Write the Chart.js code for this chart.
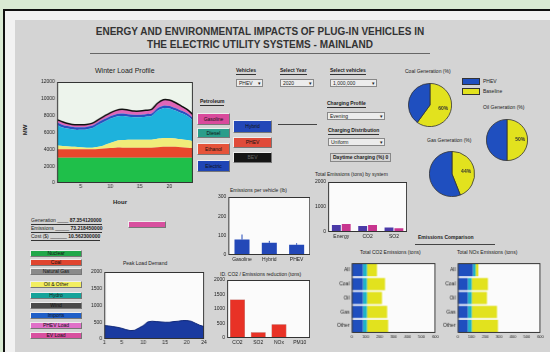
<!DOCTYPE html>
<html>
<head>
<meta charset="utf-8">
<script src="https://cdn.jsdelivr.net/npm/chart.js@4.4.1/dist/chart.umd.min.js"></script>
<style>
  body { margin: 0; width: 550px; height: 352px; overflow: hidden; background: #d9ead3;
         font-family: "Liberation Sans", Arial, sans-serif; position: relative; }
  #frame { position: absolute; left: 3px; top: 9px; width: 560px; height: 360px;
           border-left: 2px solid #111; border-top: 2px solid #111; background: #f2f2f2; }
  #panel { position: absolute; left: 15px; top: 20px; width: 535px; height: 332px; background: #d4d4d4; }
  .t { position: absolute; font-size: 6px; line-height: 1; color: #222; white-space: nowrap; }
  .b { font-weight: bold; }
  .u { border-bottom: 1px solid #333; padding-bottom: 1px; }
  .rule { position: absolute; height: 1px; background: #444; }
  .btn { position: absolute; font-size: 5px; text-align: center; color: #111; box-sizing: border-box;
         border: 1px solid #eee; border-right-color: #777; border-bottom-color: #777; }
  .pop { position: absolute; font-size: 5px; line-height: 6px; background: #ececec; color: #222;
         border: 1px solid #888; padding-left: 2px; box-sizing: border-box; }
  .pop:after { content: "\25BE"; position: absolute; right: 1px; top: 0; }
  .sw { position: absolute; border: 1px solid #333; box-sizing: border-box; }
  canvas { position: absolute; }
</style>
</head>
<body>
<div id="frame"></div>
<div id="panel"></div>

<!-- header -->
<div class="t b" style="left:60px;width:400px;text-align:center;top:27px;font-size:10px;color:#333">ENERGY AND ENVIRONMENTAL IMPACTS OF PLUG-IN VEHICLES IN</div>
<div class="t b" style="left:60px;width:400px;text-align:center;top:40px;font-size:10px;color:#333">THE ELECTRIC UTILITY SYSTEMS - MAINLAND</div>
<div class="rule" style="left:90px;top:53px;width:340px;background:#666"></div>

<!-- load profile labels -->
<div class="t" style="left:95px;top:67px;font-size:7px">Winter Load Profile</div>
<div class="t b" style="left:20px;top:127px;font-size:6px;transform:rotate(-90deg)">MW</div>
<div class="t b" style="left:113px;top:199px">Hour</div>

<!-- fuel buttons -->
<div class="t b u" style="left:200px;top:99px;font-size:5px">Petroleum</div>
<div class="btn" style="left:197px;top:113px;width:33px;height:12px;line-height:10px;background:#d94a9c">Gasoline</div>
<div class="btn" style="left:197px;top:128px;width:33px;height:10px;line-height:8px;background:#2a9d8a">Diesel</div>
<div class="btn" style="left:197px;top:143px;width:33px;height:12px;line-height:10px;background:#e5533a">Ethanol</div>
<div class="btn" style="left:197px;top:160px;width:33px;height:12px;line-height:10px;background:#1f45b5">Electric</div>
<div class="btn" style="left:233px;top:120px;width:39px;height:13px;line-height:11px;background:#2348b8">Hybrid</div>
<div class="btn" style="left:233px;top:137px;width:39px;height:11px;line-height:9px;background:#e04b3a">PHEV</div>
<div class="btn" style="left:233px;top:152px;width:39px;height:11px;line-height:9px;background:#151515;color:#666">BEV</div>
<div class="rule" style="left:278px;top:124px;width:39px"></div>

<!-- selectors -->
<div class="t b u" style="left:236px;top:68px;font-size:5px">Vehicles</div>
<div class="pop" style="left:236px;top:79px;width:27px;height:8px">PHEV</div>
<div class="t b u" style="left:280px;top:68px;font-size:5px">Select Year</div>
<div class="pop" style="left:280px;top:79px;width:34px;height:8px">2020</div>
<div class="t b u" style="left:330px;top:68px;font-size:5px">Select vehicles</div>
<div class="pop" style="left:330px;top:79px;width:47px;height:8px">1,000,000</div>

<div class="t b u" style="left:327px;top:101px;font-size:5px">Charging Profile</div>
<div class="pop" style="left:327px;top:112px;width:58px;height:8px">Evening</div>
<div class="t b u" style="left:328px;top:128px;font-size:5px">Charging Distribution</div>
<div class="pop" style="left:328px;top:138px;width:57px;height:8px">Uniform</div>
<div class="t b" style="left:330px;top:153px;font-size:5px;border:1px solid #888;padding:1px 2px">Daytime charging (%) 0</div>

<!-- pie titles and legend -->
<div class="t" style="left:405px;top:69px;font-size:5px">Coal Generation (%)</div>
<div class="t" style="left:483px;top:105px;font-size:5px">Oil Generation (%)</div>
<div class="t" style="left:427px;top:138px;font-size:5px">Gas Generation (%)</div>
<div class="sw" style="left:462px;top:78px;width:18px;height:7px;background:#1f4fbf"></div>
<div class="sw" style="left:462px;top:88px;width:18px;height:7px;background:#e2e21e"></div>
<div class="t" style="left:483px;top:79px;font-size:5px">PHEV</div>
<div class="t" style="left:483px;top:89px;font-size:5px">Baseline</div>

<!-- bar chart titles -->
<div class="t" style="left:315px;top:172px;font-size:5px">Total Emissions (tons) by system</div>
<div class="t" style="left:230px;top:188px;font-size:5px">Emissions per vehicle (lb)</div>
<div class="sw" style="left:259px;top:201px;width:21px;height:6px;background:#2348b8"></div>
<div class="sw" style="left:259px;top:209px;width:21px;height:6px;background:#d8d838"></div>
<div class="t" style="left:281px;top:202px;font-size:4px">Gasoline</div>
<div class="t" style="left:281px;top:210px;font-size:4px">PHEV</div>
<div class="t" style="left:220px;top:272px;font-size:5px">ID. CO2 / Emissions reduction (tons)</div>

<!-- summary rows -->
<div class="t u" style="left:31px;top:218px;font-size:5px">Generation ____ <b>87.354120000</b></div>
<div class="t u" style="left:31px;top:226px;font-size:5px">Emissions _____ <b>73.218450000</b></div>
<div class="t u" style="left:31px;top:234px;font-size:5px">Cost ($) ______ <b>10.562300000</b></div>
<div class="btn" style="left:128px;top:221px;width:38px;height:7px;background:#d8509f"></div>

<!-- generation colour list -->
<div class="btn" style="left:30px;top:250px;width:52px;height:7px;line-height:5px;background:#21a84a">Nuclear</div>
<div class="btn" style="left:30px;top:259px;width:52px;height:7px;line-height:5px;background:#e0452f">Coal</div>
<div class="btn" style="left:30px;top:268px;width:52px;height:7px;line-height:5px;background:#8a8a8a">Natural Gas</div>
<div class="btn" style="left:30px;top:281px;width:52px;height:7px;line-height:5px;background:#f2ee60">Oil &amp; Other</div>
<div class="btn" style="left:30px;top:292px;width:52px;height:7px;line-height:5px;background:#15a39a">Hydro</div>
<div class="btn" style="left:30px;top:302px;width:52px;height:7px;line-height:5px;background:#4a4a4a">Wind</div>
<div class="btn" style="left:30px;top:312px;width:52px;height:7px;line-height:5px;background:#1f5fc8">Imports</div>
<div class="btn" style="left:30px;top:322px;width:52px;height:7px;line-height:5px;background:#e070c8">PHEV Load</div>
<div class="btn" style="left:30px;top:332px;width:52px;height:7px;line-height:5px;background:#d8509f">EV Load</div>

<!-- peak chart labels -->
<div class="t" style="left:123px;top:261px;font-size:5px">Peak Load Demand</div>
<div class="sw" style="left:143px;top:276px;width:20px;height:5px;background:#1a3aa0"></div>
<div class="t" style="left:165px;top:276px;font-size:4px">Vehicle load</div>

<!-- emissions comparison -->
<div class="t b" style="left:418px;top:235px;font-size:5px">Emissions Comparison</div>
<div class="rule" style="left:415px;top:244px;width:80px"></div>
<div class="t" style="left:360px;top:250px;font-size:5px">Total CO2 Emissions (tons)</div>
<div class="t" style="left:457px;top:250px;font-size:5px">Total NOx Emissions (tons)</div>
<div class="sw" style="left:396px;top:265px;width:16px;height:5px;background:#1f4fbf"></div>
<div class="sw" style="left:396px;top:270px;width:16px;height:5px;background:#1fb4c8"></div>
<div class="sw" style="left:396px;top:275px;width:16px;height:5px;background:#e2e21e"></div>
<div class="t" style="left:414px;top:265px;font-size:4px">Base</div>
<div class="t" style="left:414px;top:270px;font-size:4px">Night</div>
<div class="t" style="left:414px;top:275px;font-size:4px">Day</div>
<div class="sw" style="left:503px;top:265px;width:18px;height:5px;background:#1f4fbf"></div>
<div class="sw" style="left:503px;top:270px;width:18px;height:5px;background:#1fb4c8"></div>
<div class="sw" style="left:503px;top:275px;width:18px;height:5px;background:#e2e21e"></div>
<div class="t" style="left:523px;top:265px;font-size:4px">Base</div>
<div class="t" style="left:523px;top:270px;font-size:4px">Night</div>
<div class="t" style="left:523px;top:275px;font-size:4px">Day</div>

<script>
// hourly winter load profile, MW per generation layer
const hours = [1, 2, 3, 4, 5, 6, 7, 8, 9, 10, 11, 12, 13, 14, 15, 16, 17, 18, 19, 20, 21, 22, 23, 24];
const nuclearMW = [3000, 3000, 3000, 3000, 3000, 3000, 3000, 3000, 3000, 3000, 3000, 3000, 3000, 3000, 3000, 3000, 3000, 3000, 3000, 3000, 3000, 3000, 3000, 3000];
const coalMW = [1000, 1000, 1000, 1000, 1000, 1000, 1000, 1050, 1100, 1150, 1200, 1200, 1200, 1200, 1200, 1200, 1200, 1250, 1300, 1300, 1300, 1250, 1200, 1150];
const oilMW = [450, 400, 350, 300, 250, 200, 200, 250, 400, 600, 800, 900, 950, 950, 950, 950, 950, 1000, 1050, 1050, 1000, 950, 900, 800];
const gasMW = [2430, 2190, 2090, 2020, 2070, 2160, 2320, 2630, 2790, 2890, 2880, 2850, 2720, 2650, 2650, 2730, 2800, 3330, 3540, 3500, 3310, 3110, 2900, 2490];
const importMW = [300, 300, 300, 300, 300, 300, 300, 300, 300, 300, 300, 300, 300, 300, 300, 300, 300, 300, 300, 300, 300, 300, 300, 300];
const vehicleMW = [350, 350, 300, 300, 300, 300, 300, 300, 350, 400, 450, 500, 500, 450, 450, 450, 500, 600, 700, 700, 650, 550, 450, 400];

// generation shares for the three pies (yellow slice first, then blue)
const pieOther = [60, 50, 44];
const pieCoal = [40, 50, 56];

// per-vehicle emissions
const vehicleTypes = ['Gasoline', 'Hybrid', 'PHEV'];
const perVehicle = [80, 63, 53];
const perVehicleErr = [26, 10, 8];

// system emissions, two scenarios
const systemCats = ['Energy', 'CO2', 'SO2'];
const systemBase = [280, 240, 180];
const systemPhev = [320, 280, 150];

// emission reductions
const pollutants = ['CO2', 'SO2', 'NOx', 'PM10'];
const reduction = [1330, 200, 470, 0];

// peak vehicle load by hour
const peakLoad = [400, 390, 370, 350, 320, 280, 250, 260, 330, 400, 510, 530, 520, 510, 500, 500, 520, 530, 550, 550, 530, 470, 410, 370];

// emissions comparison, stacked by charging period
const compareRows = ['All', 'Coal', 'Oil', 'Gas', 'Other'];
const co2Base = [80, 80, 80, 80, 80];
const co2Night = [29, 29, 29, 29, 29];
const co2Day = [72, 130, 108, 145, 152];
const noxBase = [110, 73, 73, 73, 73];
const noxNight = [20, 29, 29, 29, 29];
const noxDay = [20, 117, 110, 183, 190];

Chart.defaults.font.family = '"Liberation Sans", Arial, sans-serif';
Chart.defaults.font.size = 5;
Chart.defaults.color = '#222';
Chart.defaults.animation = false;
Chart.defaults.responsive = false;
Chart.defaults.maintainAspectRatio = false;
Chart.defaults.plugins.legend.display = false;
Chart.defaults.plugins.tooltip.enabled = false;

// white plot background and a thin frame around the axes box
const plotBox = {
  id: 'plotBox',
  beforeDraw(chart, args, opts) {
    const a = chart.chartArea;
    const c = chart.ctx;
    c.save();
    c.fillStyle = opts.bg || '#fbfbfb';
    c.fillRect(a.left, a.top, a.right - a.left, a.bottom - a.top);
    c.restore();
  },
  afterDraw(chart) {
    const a = chart.chartArea;
    const c = chart.ctx;
    c.save();
    c.strokeStyle = '#333';
    c.lineWidth = 1;
    c.strokeRect(a.left + 0.5, a.top + 0.5, a.right - a.left - 1, a.bottom - a.top - 1);
    c.restore();
  }
};

// percentage printed on the yellow slice
const pieLabel = {
  id: 'pieLabel',
  afterDraw(chart) {
    const arc = chart.getDatasetMeta(0).data[0];
    const p = arc.tooltipPosition();
    const c = chart.ctx;
    c.save();
    c.font = 'bold 5px "Liberation Sans", Arial';
    c.fillStyle = '#333';
    c.textAlign = 'center';
    c.textBaseline = 'middle';
    c.fillText(chart.data.datasets[0].data[0] + '%', p.x + 3, p.y);
    c.restore();
  }
};

// whiskers above the per-vehicle bars
const errBars = {
  id: 'errBars',
  afterDatasetsDraw(chart, args, opts) {
    const y = chart.scales.y;
    const c = chart.ctx;
    const vals = chart.data.datasets[0].data;
    c.save();
    c.strokeStyle = '#2348b8';
    c.lineWidth = 1;
    chart.getDatasetMeta(0).data.forEach((bar, i) => {
      c.beginPath();
      c.moveTo(bar.x, y.getPixelForValue(vals[i]));
      c.lineTo(bar.x, y.getPixelForValue(vals[i] + opts.err[i]));
      c.stroke();
    });
    c.restore();
  }
};

function tk(extra) {
  return Object.assign({ padding: 2, font: { size: 5 }, color: '#222' }, extra);
}

function ax(extra) {
  return Object.assign({
    grid: { display: false, drawTicks: false },
    border: { display: false },
    ticks: tk({})
  }, extra);
}

// create a chart and size/position its canvas so the plot area lands on (L,T,W,H)
function makeChart(L, T, W, H, config) {
  const cv = document.createElement('canvas');
  cv.width = W + 30;
  cv.height = H + 15;
  document.body.appendChild(cv);
  const chart = new Chart(cv, config);
  let a = chart.chartArea;
  chart.resize(chart.width + W - (a.right - a.left), chart.height + H - (a.bottom - a.top));
  a = chart.chartArea;
  cv.style.left = (L - a.left) + 'px';
  cv.style.top = (T - a.top) + 'px';
  return chart;
}

function layer(label, data, color, fill) {
  return { label, data, backgroundColor: color, borderWidth: 0, pointRadius: 0, fill, tension: 0.3 };
}

// winter load profile
const topLayer = layer('Vehicle load', vehicleMW, '#e066b8', '-1');
topLayer.borderWidth = 1.5;
topLayer.borderColor = '#111';
makeChart(57, 82, 135, 101, {
  type: 'line',
  data: {
    labels: hours,
    datasets: [
      layer('Nuclear', nuclearMW, '#1fbf4a', 'origin'),
      layer('Coal', coalMW, '#e8472c', '-1'),
      layer('Oil', oilMW, '#f0ec7a', '-1'),
      layer('Gas', gasMW, '#1eb2dc', '-1'),
      layer('Imports', importMW, '#2a4fc0', '-1'),
      topLayer
    ]
  },
  options: {
    layout: { padding: 0 },
    scales: {
      x: ax({ type: 'linear', min: 1, max: 24,
        ticks: tk({ stepSize: 5, padding: 1, callback: v => (v === 1 || v === 24) ? '' : v }) }),
      y: ax({ stacked: true, min: 0, max: 12000, ticks: tk({ stepSize: 2000, callback: v => v }) })
    },
    plugins: { plotBox: { bg: '#edf4ec' } }
  },
  plugins: [plotBox]
});

// generation share pies
const pieSpots = [[430, 105, 22], [507, 140, 21], [452, 174, 23]];
pieSpots.forEach((p, i) => {
  makeChart(p[0] - p[2], p[1] - p[2], p[2] * 2, p[2] * 2, {
    type: 'pie',
    data: {
      labels: ['Other', 'Coal'],
      datasets: [{ data: [pieOther[i], pieCoal[i]], backgroundColor: ['#e2e21e', '#1f4fbf'],
        borderColor: '#333', borderWidth: 0.8 }]
    },
    options: { layout: { padding: 0 } },
    plugins: [pieLabel]
  });
});

// per-vehicle emissions
makeChart(228, 197, 82, 58, {
  type: 'bar',
  data: {
    labels: vehicleTypes,
    datasets: [{ data: perVehicle, backgroundColor: '#2348b8', categoryPercentage: 1, barPercentage: 0.55 }]
  },
  options: {
    scales: {
      x: ax({}),
      y: ax({ min: 0, max: 300, ticks: tk({ stepSize: 100 }) })
    },
    plugins: { errBars: { err: perVehicleErr } }
  },
  plugins: [plotBox, errBars]
});

// system emissions; extra room on the left so the tick labels never clip
makeChart(328, 182, 79, 50, {
  type: 'bar',
  data: {
    labels: systemCats,
    datasets: [
      { data: systemBase, backgroundColor: '#4a3aa8', categoryPercentage: 0.75, barPercentage: 0.9 },
      { data: systemPhev, backgroundColor: '#c8358f', categoryPercentage: 0.75, barPercentage: 0.9 }
    ]
  },
  options: {
    layout: { padding: { left: 12, top: 4 } },
    scales: {
      x: ax({}),
      y: ax({ min: 0, max: 2000, ticks: tk({ stepSize: 1000, autoSkip: false, callback: v => v }) })
    }
  },
  plugins: [plotBox]
});

// emission reductions
makeChart(227, 280, 83, 58, {
  type: 'bar',
  data: {
    labels: pollutants,
    datasets: [{ data: reduction, backgroundColor: '#e83226', borderColor: '#a01a10', borderWidth: 0.5,
      categoryPercentage: 1, barPercentage: 0.72 }]
  },
  options: {
    scales: {
      x: ax({}),
      y: ax({ min: 0, max: 2000, ticks: tk({ stepSize: 500, callback: v => v }) })
    }
  },
  plugins: [plotBox]
});

// peak vehicle load
makeChart(104, 272, 99, 67, {
  type: 'line',
  data: {
    labels: hours,
    datasets: [{ data: peakLoad, backgroundColor: '#1a3aa0', borderColor: '#10287a', borderWidth: 1,
      pointRadius: 0, fill: 'origin' }]
  },
  options: {
    scales: {
      x: ax({ type: 'linear', min: 1, max: 24, ticks: tk({ stepSize: 5, padding: 1 }) }),
      y: ax({ min: 0, max: 2000, ticks: tk({ stepSize: 500, callback: v => v }) })
    }
  },
  plugins: [plotBox]
});

// emissions comparison, horizontal stacked bars
function stackedH(L, W, base, night, day) {
  const seg = (data, color) => ({ data, backgroundColor: color, categoryPercentage: 1, barPercentage: 0.88 });
  makeChart(L, 263, W, 69, {
    type: 'bar',
    data: {
      labels: compareRows,
      datasets: [seg(base, '#1f4fbf'), seg(night, '#1fb4c8'), seg(day, '#e2e21e')]
    },
    options: {
      indexAxis: 'y',
      scales: {
        x: ax({ stacked: true, min: 0, max: 600, ticks: tk({ stepSize: 100, padding: 1, font: { size: 4 } }) }),
        y: ax({ stacked: true })
      }
    },
    plugins: [plotBox]
  });
}
stackedH(352, 83, co2Base, co2Night, co2Day);
stackedH(458, 82, noxBase, noxNight, noxDay);
</script>
</body>
</html>
